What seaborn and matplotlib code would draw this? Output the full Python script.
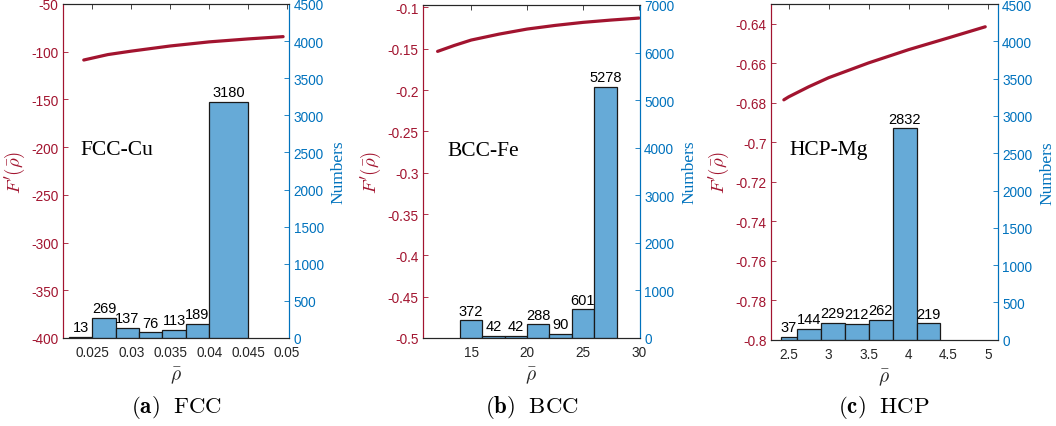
import numpy as np
import pandas as pd
import matplotlib
matplotlib.use("Agg")
import matplotlib.pyplot as plt
import seaborn as sns

# --- data ---
# histogram bin edges and counts (right axis)
fcc_edges = [0.022, 0.025, 0.028, 0.031, 0.034, 0.037, 0.040, 0.045]
fcc_counts = [13, 269, 137, 76, 113, 189, 3180]
bcc_edges = [14, 16, 18, 20, 22, 24, 26, 28]
bcc_counts = [372, 42, 42, 288, 90, 601, 5278]
hcp_edges = [2.4, 2.6, 2.9, 3.2, 3.5, 3.8, 4.1, 4.4]
hcp_counts = [37, 144, 229, 212, 262, 2832, 219]

# F'(rho) curves (left axis)
fcc_rho = [0.0239, 0.027, 0.030, 0.035, 0.040, 0.045, 0.0495]
fcc_dF = [-108.7, -103.0, -99.4, -94.0, -89.7, -86.6, -84.2]
bcc_rho = [12.0, 13.5, 15.0, 17.5, 20.0, 22.5, 25.0, 27.5, 30.0]
bcc_dF = [-0.1532, -0.1460, -0.1395, -0.1323, -0.1262, -0.1218, -0.1181, -0.1153, -0.1129]
hcp_rho = [2.44, 2.5, 2.75, 3.0, 3.5, 4.0, 4.5, 4.96]
hcp_dF = [-0.6785, -0.6770, -0.6719, -0.6673, -0.6598, -0.6531, -0.6471, -0.6415]

# tick values
fcc_xticks = [0.025, 0.03, 0.035, 0.04, 0.045, 0.05]
bcc_xticks = [15, 20, 25, 30]
hcp_xticks = [2.5, 3, 3.5, 4, 4.5, 5]
fcc_yticks = list(range(-400, -49, 50))
bcc_yticks = [-0.5, -0.45, -0.4, -0.35, -0.3, -0.25, -0.2, -0.15, -0.1]
hcp_yticks = [-0.8, -0.78, -0.76, -0.74, -0.72, -0.7, -0.68, -0.66, -0.64]
fcc_nticks = list(range(0, 4501, 500))
bcc_nticks = list(range(0, 7001, 1000))
hcp_nticks = list(range(0, 4501, 500))

names = ["FCC-Cu", "BCC-Fe", "HCP-Mg"]
captions = [r"$\mathbf{(a)}\ \ \mathrm{FCC}$", r"$\mathbf{(b)}\ \ \mathrm{BCC}$",
            r"$\mathbf{(c)}\ \ \mathrm{HCP}$"]

RED = "#A2142F"
BLUE = "#0072BD"
BAR = "#66AAD7"
DARK = "#262626"

sns.set_theme(style="white")
plt.rcParams["font.family"] = ["Liberation Sans", "DejaVu Sans"]
plt.rcParams["mathtext.fontset"] = "cm"

panels = [
    dict(edges=fcc_edges, counts=fcc_counts, rho=fcc_rho, dF=fcc_dF,
         xticks=fcc_xticks, yticks=fcc_yticks, nticks=fcc_nticks,
         xlim=(0.0212, 0.0503), ylim=(-400, -50), nlim=(0, 4500),
         pos=[0.0594, 0.2061, 0.2146, 0.7822], text_xy=(0.0235, -202), cap_x=0.167),
    dict(edges=bcc_edges, counts=bcc_counts, rho=bcc_rho, dF=bcc_dF,
         xticks=bcc_xticks, yticks=bcc_yticks, nticks=bcc_nticks,
         xlim=(10.67, 30.1), ylim=(-0.5, -0.097), nlim=(0, 7000),
         pos=[0.4003, 0.2061, 0.2058, 0.7800], text_xy=(12.9, -0.273), cap_x=0.504),
    dict(edges=hcp_edges, counts=hcp_counts, rho=hcp_rho, dF=hcp_dF,
         xticks=hcp_xticks, yticks=hcp_yticks, nticks=hcp_nticks,
         xlim=(2.275, 5.12), ylim=(-0.8, -0.63), nlim=(0, 4500),
         pos=[0.7298, 0.2021, 0.2153, 0.7860], text_xy=(2.508, -0.7037), cap_x=0.837),
]

fig = plt.figure(figsize=(10.56, 4.27), dpi=100)

for i, p in enumerate(panels):
    ax = fig.add_axes(p["pos"])
    ax2 = ax.twinx()

    # F'(rho) curve on the left axis
    sns.lineplot(x=p["rho"], y=p["dF"], ax=ax, color=RED, linewidth=2.3)

    # histogram of rho on the right axis (counts used as weights at bin centres)
    edges = list(p["edges"])
    centers = [(a + b) / 2 for a, b in zip(edges[:-1], edges[1:])]
    hist_df = pd.DataFrame({"rho": centers, "n": p["counts"]})
    sns.histplot(data=hist_df, x="rho", weights="n", bins=edges, ax=ax2,
                 color=BAR, alpha=1, edgecolor="#1a1a1a", linewidth=0.9)
    ax2.bar_label(ax2.containers[0], labels=[str(c) for c in p["counts"]],
                  padding=2, fontsize=10.5, color="black")

    ax.set_xlim(*p["xlim"])
    ax.set_ylim(*p["ylim"])
    ax2.set_ylim(*p["nlim"])
    ax.set_xticks(p["xticks"])
    ax.set_xticklabels([f"{v:g}" for v in p["xticks"]])
    ax.set_yticks(p["yticks"])
    ax.set_yticklabels([f"{v:g}" for v in p["yticks"]])
    ax2.set_yticks(p["nticks"])
    ax2.set_yticklabels([str(v) for v in p["nticks"]])

    ax.tick_params(axis="x", direction="in", length=3.5, width=0.6, colors=DARK,
                   labelsize=9.8, top=True, pad=5)
    ax.tick_params(axis="y", direction="in", length=3.5, width=0.6, colors=RED,
                   labelsize=9.8, pad=3)
    ax2.tick_params(axis="y", direction="in", length=3.5, width=0.6, colors=BLUE,
                    labelsize=9.8, pad=3)

    for a in (ax, ax2):
        a.spines["top"].set_color(DARK)
        a.spines["bottom"].set_color(DARK)
        a.spines["left"].set_color(RED)
        a.spines["right"].set_color(BLUE)
        for s in a.spines.values():
            s.set_linewidth(0.8)

    ax.set_xlabel(r"$\bar{\rho}$", fontsize=14, color=DARK, labelpad=4)
    ax.set_ylabel(r"$F'(\bar{\rho})$", fontsize=13.5, color=RED, labelpad=3)
    ax2.set_ylabel("Numbers", fontsize=12.5, color=BLUE,
                   family=["Liberation Serif", "DejaVu Serif"], labelpad=5)

    ax.text(p["text_xy"][0], p["text_xy"][1], names[i], fontsize=15.5,
            family=["Liberation Serif", "DejaVu Serif"], color="black",
            ha="left", va="center")

    fig.text(p["cap_x"], 0.045, captions[i], ha="center", va="center",
             fontsize=16.5, color="black")

fig.savefig("out.png", dpi=100)
